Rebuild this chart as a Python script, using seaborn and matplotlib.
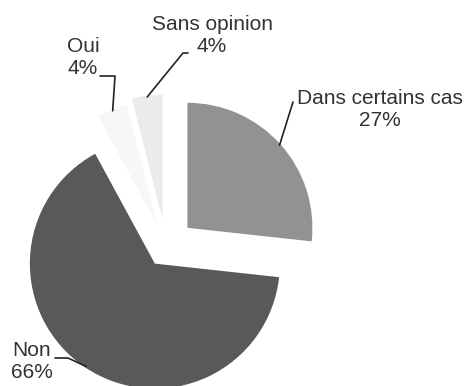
import numpy as np
import matplotlib.pyplot as plt
import seaborn as sns

# Data
labels = ['Dans certains cas', 'Non', 'Oui', 'Sans opinion']
pct = [27, 66, 4, 4]
colors = ['#929292', '#59595b', '#f7f7f7', '#ebebeb']
explode = [0.23, 0.16, 0.18, 0.22]

sns.set_theme(style='white')
plt.rcParams['font.family'] = ['Liberation Sans', 'DejaVu Sans']

W, H = 468, 386
R = 125.0          # pie radius in pixels
CX, CY = 166, 247  # pie centre in pixels (from top-left)


def px(x, y):
    # pixel position (from top-left) -> data coords
    return (x - CX) / R, (CY - y) / R


fig = plt.figure(figsize=(W / 100, H / 100), dpi=100)
ax = fig.add_axes([0, 0, 1, 1])

wedges, _ = ax.pie(pct, colors=colors, explode=explode, startangle=90,
                   counterclock=False, radius=1,
                   wedgeprops=dict(linewidth=0))

# pie() resets the limits, so set them afterwards
x0, y1 = px(0, 0)
x1, y0 = px(W, H)
ax.set_xlim(x0, x1)
ax.set_ylim(y0, y1)
ax.set_aspect('equal')
ax.axis('off')

# label text centres and elbow points of the leader lines (pixels)
text_pos = [(380, 110), (32, 362), (83, 57), (212, 35)]
elbows = [[(293, 102)], [(68, 358), (55, 358)], [(115, 76), (100, 76)],
          [(183, 53), (188, 53)]]

txt_color = '#333333'
for w, lab, p, tp, el in zip(wedges, labels, pct, text_pos, elbows):
    mid = np.deg2rad((w.theta1 + w.theta2) / 2)
    cx, cy = w.center
    rim = (cx + 0.99 * np.cos(mid), cy + 0.99 * np.sin(mid))
    pts = [rim] + [px(*e) for e in el]
    ax.plot([q[0] for q in pts], [q[1] for q in pts], color='#222222', lw=1.2)
    ax.text(*px(*tp), f'{lab}\n{p}%', ha='center', va='center',
            fontsize=15, color=txt_color, linespacing=1.2)

fig.savefig('out.png', dpi=100)
